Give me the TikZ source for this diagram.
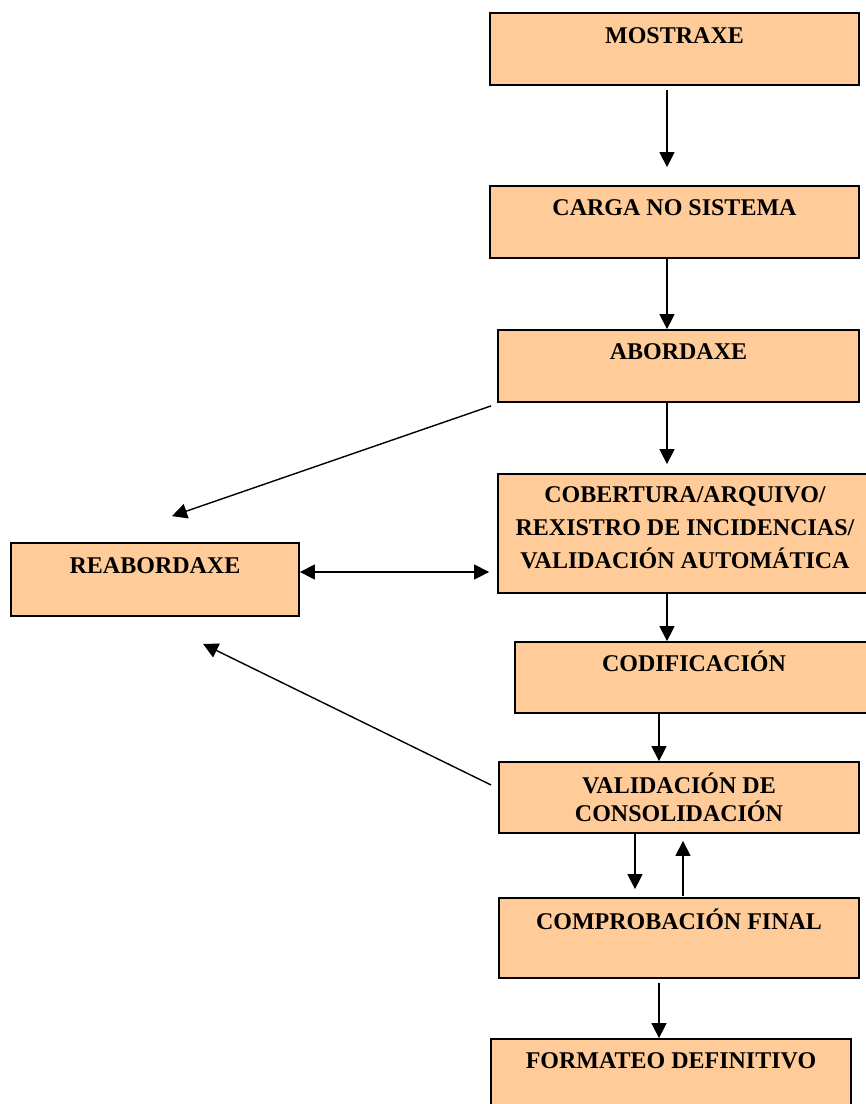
\documentclass[tikz,border=0pt]{standalone}
\usepackage{fontspec}
\setmainfont{Liberation Serif}
\usetikzlibrary{arrows.meta}
\definecolor{pexego}{HTML}{FFCC99}

\begin{document}
\begin{tikzpicture}[x=1pt, y=-1pt,
    >={Triangle[width=15pt,length=15pt]},
    paso/.style={draw, line width=1.8pt, fill=pexego, inner sep=0pt, align=center,
        font=\fontsize{24}{33}\selectfont\bfseries},
    frecha/.style={line width=1.4pt, ->}]
    \useasboundingbox (0,0) rectangle (866,1104);

    % Main column
    \node[paso, minimum width=369, minimum height=72] (mostraxe) at (674.5,49) {MOSTRAXE\\[-6pt]\mbox{}};
    \node[paso, minimum width=369, minimum height=72] (carga) at (674.5,222) {CARGA NO SISTEMA\\[-5pt]\mbox{}};
    \node[paso, minimum width=361, minimum height=72] (abordaxe) at (678.5,366) {ABORDAXE\\[-5pt]\mbox{}};
    \node[paso, minimum width=374, minimum height=119] (cobertura) at (685,533.5)
        {COBERTURA/ARQUIVO/\\REXISTRO DE INCIDENCIAS/\\VALIDACIÓN AUTOMÁTICA\\[-22pt]\mbox{}};
    \node[paso, minimum width=358, minimum height=71] (codif) at (694,677.5) {CODIFICACIÓN\\\mbox{}};
    \node[paso, minimum width=360, minimum height=71] (valid) at (679,797.5) {VALIDACIÓN DE\\[-5pt]CONSOLIDACIÓN};
    \node[paso, minimum width=360, minimum height=80] (comprob) at (679,938) {COMPROBACIÓN FINAL\\[4pt]\mbox{}};
    \node[paso, minimum width=360, minimum height=72] (formateo) at (671,1075) {FORMATEO DEFINITIVO\\[-4pt]\mbox{}};

    % Side box
    \node[paso, minimum width=288, minimum height=73] (reabordaxe) at (155,579.5) {REABORDAXE\\[-5pt]\mbox{}};

    % Arrows down the column
    \draw[frecha, shorten <=4pt, shorten >=18pt] ([shift={(-7.5,0)}]mostraxe.south) -- ([shift={(-7.5,0)}]carga.north);
    \draw[frecha] ([shift={(-7.5,0)}]carga.south) -- ([shift={(-11.5,0)}]abordaxe.north);
    \draw[frecha, shorten >=9pt] ([shift={(-11.5,0)}]abordaxe.south) -- ([shift={(-18,0)}]cobertura.north);
    \draw[frecha] ([shift={(-18,0)}]cobertura.south) -- ([shift={(-27,0)}]codif.north);
    \draw[frecha] ([shift={(-35,0)}]codif.south) -- ([shift={(-20,0)}]valid.north);
    \draw[frecha, shorten >=8pt] ([shift={(-44,0)}]valid.south) -- ([shift={(-44,0)}]comprob.north);
    \draw[frecha, shorten <=1pt, shorten >=7pt] ([shift={(4,0)}]comprob.north) -- ([shift={(4,0)}]valid.south);
    \draw[frecha, shorten <=4pt] ([shift={(-20,0)}]comprob.south) -- ([shift={(-12,0)}]formateo.north);

    % Arrows to and from the side box
    \draw[frecha] ([shift={(-6,3)}]abordaxe.south west) -- ([shift={(17,-26)}]reabordaxe.north);
    \draw[line width=1.4pt, <->, shorten >=8pt] ([shift={(0,-7.5)}]reabordaxe.east) -- ([shift={(0,38.5)}]cobertura.west);
    \draw[frecha] ([shift={(-7,-12.5)}]valid.west) -- ([shift={(48,27)}]reabordaxe.south);
\end{tikzpicture}
\end{document}
